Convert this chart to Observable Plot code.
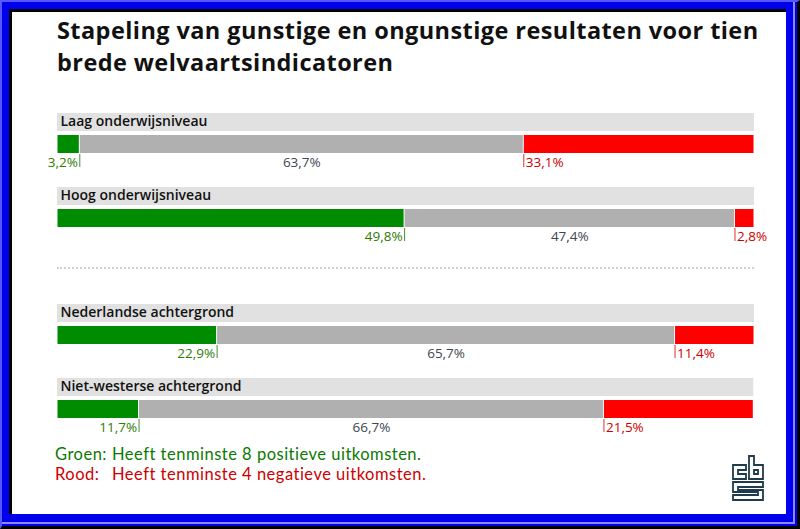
<!DOCTYPE html>
<html>
<head>
<meta charset="utf-8">
<script src="https://cdn.jsdelivr.net/npm/d3@7"></script>
<script src="https://cdn.jsdelivr.net/npm/@observablehq/plot@0.6"></script>
<style>
  html, body { margin: 0; padding: 0; background: #fff; }
  #root { position: relative; width: 800px; height: 529px; overflow: hidden; background: #0000ee; font-family: "Open Sans", Lato, sans-serif; }
  .abs { position: absolute; box-sizing: border-box; }
  #title { left: 57px; top: 14px; font-size: 23.5px; line-height: 32px; font-weight: 700; color: #111; white-space: nowrap; }
  .leg { top: 444px; font-family: Lato, sans-serif; font-size: 16.5px; line-height: 20px; letter-spacing: 0.5px; white-space: nowrap; }
  .green { color: #0a7a00; }
  .red { color: #cc0000; }
  svg { overflow: visible; }
</style>
</head>
<body>
<div id="root">
  <div class="abs" style="left:0;top:0;width:800px;height:529px;border-style:solid;border-width:2px 3px 3px 2px;border-color:#5858ff #000 #000 #5858ff;background:#0000ee;"></div>
  <div class="abs" style="left:2px;top:2px;width:793px;height:522px;border-right:2px solid #8a8aff;border-bottom:2px solid #8a8aff;"></div>
  <div class="abs" style="left:9px;top:9px;width:777px;height:505px;border-top:3px solid #000;border-left:3px solid #000;background:#fff;"></div>
  <div id="title" class="abs"><span id="t1">Stapeling van gunstige en ongunstige resultaten voor tien</span><br><span id="t2">brede welvaartsindicatoren</span></div>
  <div id="plot1" class="abs" style="left:0;top:113px;"></div>
  <div class="abs" style="left:57px;top:267px;width:697px;height:0;border-top:2px dotted #cfcfcf;"></div>
  <div id="plot2" class="abs" style="left:0;top:304px;"></div>
  <div class="abs leg" style="left:55px;"><span class="green">Groen:</span><br><span class="red">Rood:</span></div>
  <div class="abs leg" style="left:112px;"><span class="green">Heeft tenminste 8 positieve uitkomsten.</span><br><span class="red">Heeft tenminste 4 negatieve uitkomsten.</span></div>
  <svg class="abs" style="left:731px;top:454px;" width="34" height="48" viewBox="-2 -2 34 48">
    <g fill="none" stroke="#1f3b4d" stroke-width="1.8" stroke-linejoin="miter">
      <path d="M0 9 H13 V14 H5 V18 H13 V23 H0 Z"/>
      <path d="M16 0 H21 V9 H30 V23 H16 Z"/>
      <path d="M21 14 H25 V18 H21 Z"/>
      <path d="M0 26 H30 V31 H5 V34 H30 V44 H0 V39 H25 V36 H0 Z"/>
    </g>
  </svg>
</div>
<script>
// Data
const groups = ["Laag onderwijsniveau", "Hoog onderwijsniveau", "Nederlandse achtergrond", "Niet-westerse achtergrond"];
const panel1 = ["Laag onderwijsniveau", "Hoog onderwijsniveau"];
const panel2 = ["Nederlandse achtergrond", "Niet-westerse achtergrond"];
const categories = ["Gunstig", "Neutraal", "Ongunstig"];
const gunstig   = [3.2, 49.8, 22.9, 11.7];
const neutraal  = [63.7, 47.4, 65.7, 66.7];
const ongunstig = [33.1, 2.8, 11.4, 21.5];

const series = [gunstig, neutraal, ongunstig];
const fmt = v => v.toFixed(1).replace(".", ",") + "%";

// Build stacked rows
const rows = [];
const bands = [];
groups.forEach((g, i) => {
  let cum = 0;
  categories.forEach((c, k) => {
    const v = series[k][i];
    rows.push({group: g, cat: c, value: v, x1: cum, x2: cum + v, label: fmt(v)});
    cum += v;
  });
  bands.push({group: g, x1: 0, x2: cum});
});

function makePlot(domain) {
  const r = rows.filter(d => domain.includes(d.group));
  const b = bands.filter(d => domain.includes(d.group));
  const green = r.filter(d => d.cat === categories[0]);
  const gray = r.filter(d => d.cat === categories[1]);
  const red = r.filter(d => d.cat === categories[2]);
  return Plot.plot({
    width: 800, height: 148,
    marginLeft: 57, marginRight: 46, marginTop: 0, marginBottom: 0,
    x: {domain: [0, 100], axis: null},
    y: {domain, axis: null, paddingInner: 0, paddingOuter: 0},
    color: {domain: categories, range: ["#008c00", "#b0b0b0", "#ff0000"]},
    style: {fontFamily: "'Open Sans', sans-serif", background: "transparent", overflow: "visible"},
    marks: [
      Plot.barX(b, {x1: "x1", x2: "x2", y: "group", fill: "#e1e1e1", insetTop: 0, insetBottom: 56}),
      Plot.barX(r, {x1: "x1", x2: "x2", y: "group", fill: "cat", insetTop: 22, insetBottom: 34, insetLeft: 0.5, insetRight: 0.5}),
      Plot.text(b, {frameAnchor: "left", y: "group", text: "group", textAnchor: "start", dx: 3, dy: -28.5, fontWeight: 600, fontSize: 14, fill: "#111"}),
      Plot.tickX(green, {x: "x2", y: "group", stroke: "#4d8a2a", strokeWidth: 1, insetTop: 41, insetBottom: 20}),
      Plot.text(green, {x: "x2", y: "group", text: "label", textAnchor: "end", dx: -2, dy: 12.5, fill: "#2e7d00", fontSize: 13.5}),
      Plot.text(gray, {x: d => (d.x1 + d.x2) / 2, y: "group", text: "label", textAnchor: "middle", dy: 12.5, fill: "#3b4650", fontSize: 13.5}),
      Plot.tickX(red, {x: "x1", y: "group", stroke: "#e03030", strokeWidth: 1, insetTop: 41, insetBottom: 20}),
      Plot.text(red, {x: "x1", y: "group", text: "label", textAnchor: "start", dx: 2, dy: 12.5, fill: "#cc0000", fontSize: 13.5})
    ]
  });
}

document.getElementById("plot1").appendChild(makePlot(panel1));
document.getElementById("plot2").appendChild(makePlot(panel2));

// Fit the title's first line to the reference width
const t1 = document.getElementById("t1");
const w = t1.getBoundingClientRect().width;
const n = t1.textContent.length;
const ls = (701 - w) / (n - 1);
document.getElementById("title").style.letterSpacing = ls.toFixed(2) + "px";
</script>
</body>
</html>
